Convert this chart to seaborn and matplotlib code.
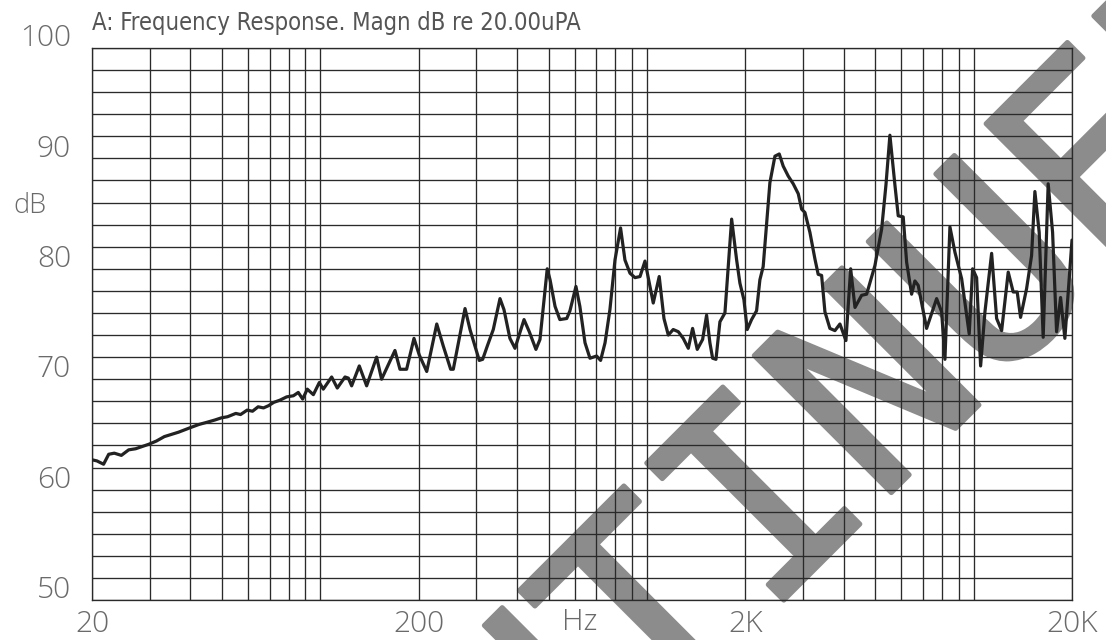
import matplotlib
matplotlib.use("Agg")
import matplotlib.pyplot as plt
import matplotlib.transforms as mtransforms
import matplotlib.patheffects as pe
from matplotlib import font_manager as fm
from matplotlib.ticker import FixedLocator, NullFormatter
import pandas as pd
import seaborn as sns

# Frequency response (Hz, dB re 20 uPa)
freq_hz = [
    20.0, 20.7, 21.7, 22.5, 23.4, 24.6, 25.9, 27.2, 28.5, 29.8, 31.5, 33.3,
    35.0, 36.8, 39.9, 42.5, 45.0, 47.5, 49.8, 52.0, 55.1, 57.0, 59.7, 62.0,
    64.5, 67.0, 69.4, 72.0,
    75.2, 78.9, 82.7, 85.6, 88.3, 91.2, 95.2, 99.3, 102.1, 108.3, 112.7, 119.0,
    121.8, 124.7, 131.6, 138.6, 148.7, 154.0, 169.2, 175.3, 183.7, 193.5, 200.8,
    211.7, 227.2, 237.9, 250.6, 255.3, 277.3, 287.2, 306.6, 314.0, 324.4, 338.4,
    354.8, 364.9, 380.5, 394.3, 420.3, 436.2, 457.1, 470.3,
    495, 505, 523, 541, 568, 581, 606, 623, 646, 669, 701, 721, 744, 770, 798,
    830, 856, 887, 919, 952, 986, 1009, 1045, 1090, 1127, 1162, 1203, 1247,
    1291, 1338, 1379, 1425, 1480, 1522, 1558, 1588, 1626, 1672, 1732, 1816,
    1881, 1925, 1980, 2027, 2090, 2165, 2216, 2268, 2378, 2464, 2540, 2612,
    2706, 2803,
    2904, 2974, 3044, 3153, 3266, 3342, 3424, 3505, 3630, 3761, 3896, 4064,
    4202, 4332, 4540, 4703, 4986, 5228, 5389, 5541, 5740, 5876, 6086, 6234,
    6457, 6608, 6764, 7176, 7702, 7979, 8167, 8459, 8763, 9188, 9691, 9926,
    10210, 10502, 10827, 11350, 11757, 12179, 12758, 13213, 13592, 13918,
    14521, 15042, 15396, 15870, 16323, 16908, 17443, 17940, 18454, 19020, 20000,
]
level_db = [
    62.7, 62.6, 62.3, 63.2, 63.3, 63.1, 63.6, 63.7, 63.9, 64.1, 64.4, 64.8,
    65.0, 65.2, 65.6, 65.9, 66.1, 66.3, 66.5, 66.6, 66.9, 66.8, 67.2, 67.1,
    67.5, 67.4, 67.6, 67.9,
    68.1, 68.4, 68.5, 68.8, 68.2, 69.1, 68.6, 69.7, 69.1, 70.2, 69.2, 70.2,
    70.1, 69.4, 71.2, 69.4, 72.0, 70.0, 72.6, 70.9, 70.9, 73.7, 72.2,
    70.7, 75.0, 73.0, 70.9, 70.9, 76.4, 74.5, 71.7, 71.8, 73.0, 74.5,
    77.3, 76.3, 73.7, 72.8, 75.4, 74.3, 72.7, 73.6,
    80.0, 79.0, 76.6, 75.4, 75.5, 76.2, 78.4, 76.6, 73.3, 71.9, 72.1, 71.7, 73.3, 76.3, 80.8,
    83.7, 80.8, 79.6, 79.2, 79.3, 80.7, 79.2, 76.9, 79.3, 75.5, 74.0, 74.5, 74.3,
    73.7, 72.8, 74.6, 72.7, 73.6, 75.8, 73.3, 71.9, 71.8, 75.2, 76.0, 84.5,
    80.8, 78.7, 77.2, 74.5, 75.4, 76.2, 79.0, 80.2, 87.8, 90.2, 90.4, 89.3,
    88.4, 87.7,
    86.8, 85.4, 85.1, 83.3, 80.9, 79.5, 79.4, 76.1, 74.6, 74.4, 75.0, 73.5,
    80.0, 76.5, 77.6, 77.7, 80.3, 83.6, 87.6, 92.1, 87.6, 84.8, 84.7, 80.6,
    77.7, 78.9, 78.5, 74.6, 77.3, 76.1, 71.8, 83.8, 81.5, 79.1, 74.1, 80.0,
    79.2, 71.2, 76.1, 81.4, 75.5, 74.4, 79.7, 77.9, 77.9, 75.6,
    78.2, 81.2, 87.0, 83.3, 73.8, 87.7, 83.3, 74.3, 77.4, 73.7, 82.6,
]

x_ticks = [20, 200, 2000, 20000]
x_tick_labels = ["20", "200", "2K", "20K"]
y_ticks = [50, 60, 70, 80, 90, 100]
title_text = "A: Frequency Response. Magn dB re 20.00uPA"
watermark_text = "DISCONTINUED"


def find_face(candidates):
    # candidates: (family, weight, stretch, word that must be in the file name)
    for family, weight, stretch, tag in candidates:
        try:
            path = fm.findfont(fm.FontProperties(family=family, weight=weight, stretch=stretch),
                               fallback_to_default=False)
        except ValueError:
            continue
        if tag is None or tag.lower() in path.lower():
            return fm.FontProperties(fname=path)
    return fm.FontProperties(family="DejaVu Sans")


def px_to_pt(px):
    return px * 72.0 / 100.0


sns.set_theme(style="white")
plt.rcParams["font.family"] = ["DejaVu Sans"]

label_face = find_face([
    ("Roboto", "light", "normal", "light"),
    ("Lato", "light", "normal", "light"),
    ("Open Sans", "light", "normal", "light"),
    ("DejaVu Sans", "light", "normal", "extralight"),
])
title_face = find_face([
    ("Liberation Sans Narrow", "normal", "normal", "narrow"),
    ("DejaVu Sans", "normal", "condensed", "condensed"),
    ("Roboto Condensed", "light", "condensed", "condensed"),
    ("Open Sans", "normal", "condensed", "condensed"),
])
if title_face.get_file() is None:
    title_face = label_face

fig = plt.figure(figsize=(11.06, 6.40), dpi=100)
ax = fig.add_axes([92 / 1106, 40 / 640, 980 / 1106, 552 / 640])
ax.patch.set_visible(False)

df = pd.DataFrame({"freq": freq_hz, "db": level_db})
sns.lineplot(data=df, x="freq", y="db", ax=ax, color="#222222",
             linewidth=2.3, estimator=None, sort=False, zorder=3)

ax.set_xscale("log")
ax.set_xlim(20, 20000)
ax.set_ylim(50, 100)

# grid: every 2 dB, log decades 20..100, 200..1000 etc.
minor_x = [30, 40, 50, 60, 70, 80, 90, 100, 300, 400, 500, 600, 700,
           800, 900, 1000, 3000, 4000, 5000, 6000, 7000, 8000, 9000, 10000]
ax.xaxis.set_major_locator(FixedLocator(x_ticks))
ax.xaxis.set_minor_locator(FixedLocator(minor_x))
ax.xaxis.set_minor_formatter(NullFormatter())
ax.set_xticklabels(x_tick_labels)
for lab in ax.get_xticklabels():
    lab.set_fontproperties(label_face)
    lab.set_fontsize(px_to_pt(30))
    lab.set_color("#6a6a6a")
ax.yaxis.set_major_locator(FixedLocator(y_ticks))
ax.yaxis.set_minor_locator(FixedLocator(list(range(52, 100, 2))))
ax.set_yticklabels([])
ax.set_axisbelow(True)
ax.grid(True, which="both", color="#2a2a2a", linewidth=0.95)
ax.tick_params(which="both", length=0)
ax.tick_params(axis="x", pad=px_to_pt(10))
for side in ax.spines.values():
    side.set_color("#2a2a2a")
    side.set_linewidth(0.95)
ax.set_xlabel("")
ax.set_ylabel("")

# y labels sit a little above their grid lines
ytrans = mtransforms.blended_transform_factory(ax.transAxes, ax.transData)
ytrans = mtransforms.offset_copy(ytrans, fig=fig, y=9.5, units="dots")
for v in y_ticks:
    ax.text(-21 / 980, v, str(v), transform=ytrans, ha="right", va="center",
            fontproperties=label_face, fontsize=px_to_pt(30), color="#6a6a6a")

fig.text(580 / 1106, (640 - 622) / 640, "Hz", ha="center", va="center",
         fontproperties=label_face, fontsize=px_to_pt(30), color="#6a6a6a")
fig.text(30 / 1106, (640 - 206) / 640, "dB", ha="center", va="center",
         fontproperties=label_face, fontsize=px_to_pt(27), color="#6a6a6a")

title = fig.text(92 / 1106, (640 - 30) / 640, title_text, ha="left", va="baseline",
                 fontproperties=title_face, fontsize=px_to_pt(30), color="#555555")
renderer = fig.canvas.get_renderer()
w = title.get_window_extent(renderer).width
title.set_fontsize(title.get_fontsize() * 490.0 / w)

# watermark behind the grid, strokes thickened a little
fig.text(652 / 1106, (640 - 732) / 640, watermark_text, rotation=45,
         rotation_mode="anchor", ha="center", va="baseline",
         fontsize=px_to_pt(266), family="DejaVu Sans Mono",
         color="#8c8c8c", zorder=-5,
         path_effects=[pe.withStroke(linewidth=3.5, foreground="#8c8c8c")])

fig.savefig("out.png", dpi=100)
